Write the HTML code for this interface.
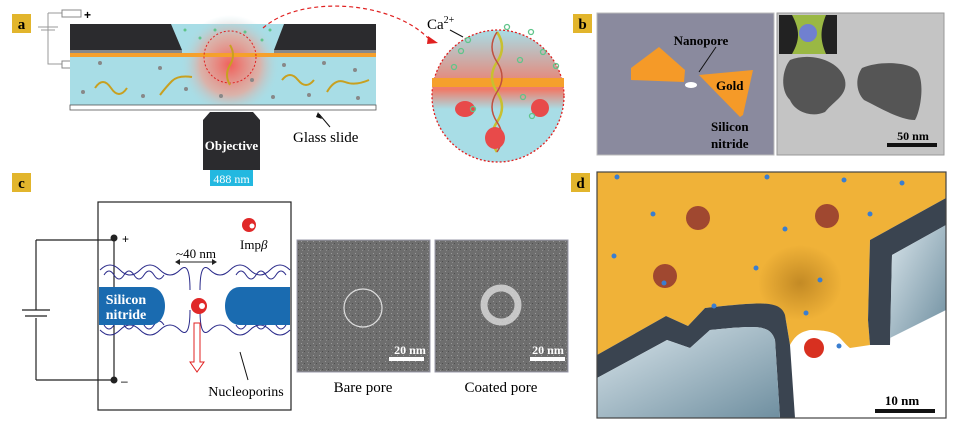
<!DOCTYPE html>
<html><head><meta charset="utf-8"><style>
html,body{margin:0;padding:0;background:#fff;}
svg{display:block;font-family:"Liberation Serif",serif;}
</style></head><body>
<svg width="957" height="430" viewBox="0 0 957 430" xmlns="http://www.w3.org/2000/svg">
<defs>
<radialGradient id="glow" cx="0.5" cy="0.5" r="0.5"><stop offset="0" stop-color="#f0605a"/><stop offset="0.6" stop-color="#f0a090" stop-opacity="0.7"/><stop offset="1" stop-color="#a8dde6" stop-opacity="0"/></radialGradient>
<linearGradient id="cg" x1="0" y1="0" x2="0" y2="1"><stop offset="0" stop-color="#a8dde6"/><stop offset="0.45" stop-color="#f07a68"/><stop offset="0.6" stop-color="#a8dde6"/></linearGradient>
<radialGradient id="pit" cx="0.5" cy="0.5" r="0.5"><stop offset="0" stop-color="#b88020"/><stop offset="1" stop-color="#f0b238"/></radialGradient>
<linearGradient id="slab" x1="0" y1="0" x2="1" y2="1"><stop offset="0" stop-color="#d8e4ea"/><stop offset="1" stop-color="#6f8fa0"/></linearGradient>
<pattern id="noise" width="6" height="6" patternUnits="userSpaceOnUse"><rect width="6" height="6" fill="#6e6e6e"/><rect x="1" y="1" width="1" height="1" fill="#9a9a9a"/><rect x="4" y="3" width="1" height="1" fill="#4e4e4e"/><rect x="2" y="4" width="1" height="1" fill="#8c8c8c"/></pattern>
</defs>

<!-- Panel a -->
<rect x="12" y="14" width="19" height="19" fill="#e2b52c"/>
<text x="21.5" y="29" font-size="15" font-weight="bold" text-anchor="middle">a</text>
<path d="M48 13 H62 M48 13 V64 H62 M38 27 H58 M41 30 H55" stroke="#999" stroke-width="1" fill="none"/>
<rect x="62" y="10" width="19" height="7" fill="#fff" stroke="#888"/>
<rect x="62" y="61" width="19" height="7" fill="#fff" stroke="#888"/>
<text x="84" y="19" font-size="12" font-weight="bold" font-family="Liberation Sans,sans-serif">+</text>
<text x="84" y="69" font-size="12" font-weight="bold" font-family="Liberation Sans,sans-serif">–</text>
<rect x="70" y="24" width="306" height="81" fill="#a8dde6"/>
<circle cx="230" cy="65" r="50" fill="url(#glow)"/>
<polygon points="70,24 171,24 182,50 70,50" fill="#2b2b2e"/>
<polygon points="284,24 376,24 376,50 274,50" fill="#2b2b2e"/>
<rect x="70" y="50" width="112" height="3" fill="#888"/>
<rect x="274" y="50" width="102" height="3" fill="#888"/>
<rect x="70" y="53" width="306" height="4" fill="#f5a02c"/>
<circle cx="230" cy="57" r="26" fill="none" stroke="#e02020" stroke-width="1" stroke-dasharray="2,2"/>
<g stroke="#c8a020" stroke-width="2" fill="none">
<path d="M95 88 q8 -12 16 0 t16 0"/><path d="M160 95 q6 -8 12 -14 t20 -4"/><path d="M282 80 q8 -10 16 0 t16 0"/><path d="M327 92 q8 -14 18 -10 t24 -2"/><path d="M230 45 q6 10 0 20 t0 20"/>
</g>
<g fill="#888"><circle cx="83" cy="92" r="2"/><circle cx="100" cy="63" r="2"/><circle cx="143" cy="96" r="2"/><circle cx="160" cy="68" r="2"/><circle cx="186" cy="89" r="2"/><circle cx="221" cy="96" r="2"/><circle cx="252" cy="80" r="2"/><circle cx="273" cy="97" r="2"/><circle cx="284" cy="65" r="2"/><circle cx="309" cy="95" r="2"/><circle cx="324" cy="63" r="2"/><circle cx="355" cy="70" r="2"/><circle cx="358" cy="98" r="2"/></g>
<g fill="#5fc48a"><circle cx="185" cy="30" r="1.5"/><circle cx="200" cy="38" r="1.5"/><circle cx="215" cy="30" r="1.5"/><circle cx="245" cy="32" r="1.5"/><circle cx="262" cy="40" r="1.5"/><circle cx="270" cy="30" r="1.5"/></g>
<rect x="70" y="105" width="306" height="5" fill="#fff" stroke="#555" stroke-width="0.8"/>
<polygon points="210,112 253,112 260,120 260,170 203,170 203,120" fill="#2b2b2e"/>
<text x="231.5" y="150" font-size="13" font-weight="bold" fill="#fff" text-anchor="middle">Objective</text>
<rect x="210" y="170" width="43" height="16" fill="#23b8e0"/>
<text x="231.5" y="183" font-size="12" fill="#fff" text-anchor="middle">488 nm</text>
<text x="293" y="142" font-size="15">Glass slide</text>
<path d="M330 127 L319 114" stroke="#111" stroke-width="1"/>
<polygon points="318,112 322,119 316,117" fill="#111"/>
<path d="M263 28 C300 -5 390 0 428 38" stroke="#e02020" stroke-width="1.2" fill="none" stroke-dasharray="4,3"/>
<polygon points="428,36 438,43 427,44" fill="#e02020"/>
<circle cx="498" cy="96" r="66" fill="url(#cg)" stroke="#e02020" stroke-width="1.3" stroke-dasharray="2,2"/>
<rect x="432" y="78" width="132" height="9" fill="#f5a02c"/>
<path d="M497 32 q10 15 0 30 t0 30 t0 30 t0 30" stroke="#c8c030" stroke-width="2.5" fill="none"/>
<path d="M497 32 q-10 15 0 30 t0 30 t0 30 t0 30" stroke="#c05040" stroke-width="1.5" fill="none"/>
<ellipse cx="465" cy="109" rx="10" ry="8" fill="#e84a4a"/><ellipse cx="540" cy="108" rx="9" ry="9" fill="#e84a4a"/><ellipse cx="495" cy="138" rx="10" ry="11" fill="#e84a4a"/>
<g fill="none" stroke="#5fc48a" stroke-width="1.3"><circle cx="468" cy="40" r="2.5"/><circle cx="461" cy="51" r="2.5"/><circle cx="454" cy="67" r="2.5"/><circle cx="507" cy="27" r="2.5"/><circle cx="531" cy="32" r="2.5"/><circle cx="543" cy="52" r="2.5"/><circle cx="520" cy="60" r="2.5"/><circle cx="556" cy="66" r="2.5"/><circle cx="523" cy="97" r="2.5"/><circle cx="532" cy="116" r="2.5"/><circle cx="473" cy="109" r="2.5"/></g>
<text x="427" y="29" font-size="15">Ca<tspan font-size="10" dy="-6">2+</tspan></text>
<path d="M450 30 L463 37" stroke="#111" stroke-width="1"/>

<!-- Panel b -->
<rect x="573" y="14" width="19" height="19" fill="#e2b52c"/>
<text x="582.5" y="29" font-size="15" font-weight="bold" text-anchor="middle">b</text>
<rect x="597" y="13" width="177" height="142" fill="#8a8a9e" stroke="#bbb"/>
<polygon points="631,68 659,47 685,70 684,82 631,80" fill="#f59a28"/>
<polygon points="699,75 753,70 743,115 740,117" fill="#f59a28"/>
<ellipse cx="691" cy="85" rx="6" ry="3" fill="#fff"/>
<text x="701" y="45" font-size="13" font-weight="bold" text-anchor="middle">Nanopore</text>
<path d="M716 47 L699 72" stroke="#111" stroke-width="1"/>
<text x="716" y="90" font-size="13" font-weight="bold">Gold</text>
<text x="711" y="131" font-size="13" font-weight="bold">Silicon</text>
<text x="711" y="148" font-size="13" font-weight="bold">nitride</text>
<rect x="777" y="13" width="167" height="142" fill="#c4c4c4" stroke="#999"/>
<path d="M790 60 C810 52 840 60 845 80 C848 95 835 100 825 112 C812 118 795 112 790 100 C780 90 782 70 790 60Z" fill="#555"/>
<path d="M862 68 C880 60 912 62 918 72 C925 85 920 112 915 120 C900 120 880 108 864 100 C856 92 855 78 862 68Z" fill="#555"/>
<rect x="779" y="15" width="58" height="39" fill="#222"/>
<path d="M792 15 C800 30 800 40 792 54 H826 C820 40 820 30 826 15Z" fill="#9ab844"/>
<circle cx="808" cy="33" r="9" fill="#7080d0"/>
<text x="913" y="140" font-size="12" font-weight="bold" text-anchor="middle">50 nm</text>
<rect x="887" y="143" width="50" height="4" fill="#111"/>

<!-- Panel c -->
<rect x="12" y="173" width="19" height="19" fill="#e2b52c"/>
<text x="21.5" y="188" font-size="15" font-weight="bold" text-anchor="middle">c</text>
<rect x="98" y="202" width="193" height="208" fill="#fff" stroke="#222" stroke-width="1.2"/>
<path d="M114 238 V380 M36 240 H114 M36 240 V310 M36 318 V380 M36 380 H114 M22 310 H50 M25 316 H47" stroke="#222" stroke-width="1.2" fill="none"/>
<circle cx="114" cy="238" r="3.5" fill="#222"/><circle cx="114" cy="380" r="3.5" fill="#222"/>
<text x="122" y="243" font-size="12" font-family="Liberation Sans,sans-serif">+</text>
<text x="121" y="385" font-size="12" font-family="Liberation Sans,sans-serif">–</text>
<g stroke="#2a2a8a" stroke-width="1" fill="none">
<path d="M100 270 q10 -10 20 0 t20 0 t20 0 t20 0 t10 20 M100 330 q10 10 20 0 t20 0 t20 0 t20 0 t10 -20 M290 270 q-10 -10 -20 0 t-20 0 t-20 0 t-20 0 t-10 20 M290 330 q-10 10 -20 0 t-20 0 t-20 0 t-20 0 t-10 -20"/>
<path d="M104 275 q5 -8 10 0 t10 0 t10 0 t10 0 t10 0 t10 0 M104 325 q5 8 10 0 t10 0 t10 0 t10 0 t10 0 t10 0 M286 275 q-5 -8 -10 0 t-10 0 t-10 0 t-10 0 t-10 0 M286 325 q-5 8 -10 0 t-10 0 t-10 0 t-10 0 t-10 0"/>
</g>
<path d="M99 287 H150 C170 287 170 325 150 325 H99Z" fill="#1a6bb0"/>
<path d="M290 287 H240 C220 287 220 325 240 325 H290Z" fill="#1a6bb0"/>
<text x="126" y="304" font-size="14" font-weight="bold" fill="#fff" text-anchor="middle">Silicon</text>
<text x="126" y="319" font-size="14" font-weight="bold" fill="#fff" text-anchor="middle">nitride</text>
<circle cx="199" cy="306" r="8" fill="#e02828"/><circle cx="202" cy="306" r="3" fill="#fff"/>
<circle cx="249" cy="225" r="7" fill="#e02828"/><circle cx="252" cy="226" r="2.5" fill="#fff"/>
<text x="240" y="249" font-size="13">Imp<tspan font-style="italic">β</tspan></text>
<text x="196" y="258" font-size="13" text-anchor="middle">~40 nm</text>
<path d="M176 262 H216" stroke="#222"/><polygon points="175,262 180,259 180,265" fill="#222"/><polygon points="217,262 212,259 212,265" fill="#222"/>
<path d="M194 323 V362 H190 L197 372 L204 362 H200 V323Z" fill="#fff" stroke="#e02020"/>
<text x="246" y="396" font-size="14" text-anchor="middle">Nucleoporins</text>
<path d="M248 380 L240 352" stroke="#111"/>
<rect x="297" y="240" width="133" height="132" fill="url(#noise)" stroke="#99a"/>
<circle cx="363" cy="308" r="19" fill="none" stroke="#ddd" stroke-width="1.2"/>
<text x="410" y="354" font-size="12" font-weight="bold" fill="#fff" text-anchor="middle">20 nm</text>
<rect x="389" y="357" width="35" height="4" fill="#fff"/>
<rect x="435" y="240" width="133" height="132" fill="url(#noise)" stroke="#99a"/>
<circle cx="501" cy="305" r="17" fill="none" stroke="#ddd" stroke-width="7" opacity="0.8"/>
<text x="548" y="354" font-size="12" font-weight="bold" fill="#fff" text-anchor="middle">20 nm</text>
<rect x="530" y="357" width="35" height="4" fill="#fff"/>
<text x="363" y="392" font-size="15" text-anchor="middle">Bare pore</text>
<text x="501" y="392" font-size="15" text-anchor="middle">Coated pore</text>

<!-- Panel d -->
<rect x="571" y="173" width="19" height="19" fill="#e2b52c"/>
<text x="580.5" y="188" font-size="15" font-weight="bold" text-anchor="middle">d</text>
<rect x="597" y="172" width="349" height="246" fill="#fff"/>
<path d="M597 172 H946 V198 L870 240 L868 320 L870 345 L850 348 C838 338 840 330 810 330 C800 332 795 336 790 345 L785 315 C780 300 760 302 705 308 L688 326 L666 316 L597 355Z" fill="#f0b238"/>
<ellipse cx="800" cy="283" rx="42" ry="38" fill="url(#pit)" opacity="0.8"/>
<path d="M597 355 L666 316 L688 326 L705 308 C760 302 780 300 785 315 L790 345 L795 418 H780 L775 340 C770 325 760 325 710 330 L690 348 L667 340 L597 378Z" fill="#3a4450"/>
<path d="M597 378 L667 340 L690 348 L710 330 C760 325 770 325 775 340 L780 418 H597Z" fill="url(#slab)"/>
<path d="M946 198 L870 240 L868 320 L870 345 L890 345 L892 255 L946 225Z" fill="#3a4450"/>
<path d="M946 225 L892 255 L890 338 L946 310Z" fill="url(#slab)"/>
<g fill="#a04830"><circle cx="698" cy="218" r="12"/><circle cx="827" cy="216" r="12"/><circle cx="665" cy="276" r="12"/></g>
<circle cx="814" cy="348" r="10" fill="#d83020"/>
<g fill="#3a7ed0"><circle cx="617" cy="177" r="2.5"/><circle cx="767" cy="177" r="2.5"/><circle cx="844" cy="180" r="2.5"/><circle cx="902" cy="183" r="2.5"/><circle cx="653" cy="214" r="2.5"/><circle cx="870" cy="214" r="2.5"/><circle cx="785" cy="229" r="2.5"/><circle cx="614" cy="256" r="2.5"/><circle cx="756" cy="268" r="2.5"/><circle cx="820" cy="280" r="2.5"/><circle cx="664" cy="283" r="2.5"/><circle cx="714" cy="306" r="2.5"/><circle cx="806" cy="313" r="2.5"/><circle cx="839" cy="346" r="2.5"/></g>
<text x="902" y="405" font-size="13" font-weight="bold" text-anchor="middle">10 nm</text>
<rect x="875" y="409" width="60" height="4" fill="#111"/>
<rect x="597" y="172" width="349" height="246" fill="none" stroke="#444" stroke-width="1.2"/>
</svg>
</body></html>
